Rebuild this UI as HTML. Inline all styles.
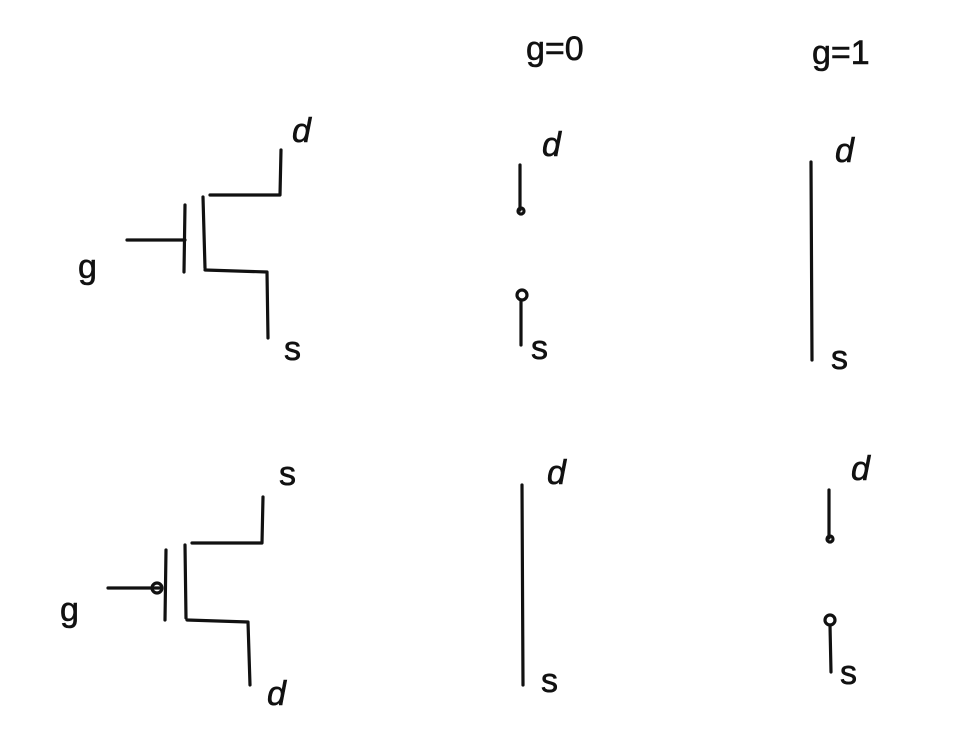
<!DOCTYPE html>
<html><head><meta charset="utf-8"><style>
html,body{margin:0;padding:0;background:#fff}
svg{display:block}
text{font-family:"Liberation Sans",sans-serif;font-size:34px;fill:#111;stroke:#111;stroke-width:0.6}
</style></head><body>
<svg width="980" height="740" viewBox="0 0 980 740" xmlns="http://www.w3.org/2000/svg">
<g fill="none" stroke="#111" stroke-width="3.2" stroke-linecap="round" stroke-linejoin="round">
<path d="M127 240 L185 240"/>
<path d="M185 205 L184 272"/>
<path d="M203 197 L205 268"/>
<path d="M210 195 L280 195 L281 150"/>
<path d="M205 270 L267 272 L268 338"/>
<path d="M108 588 L162 588"/>
<circle cx="157" cy="588" r="5"/>
<path d="M166 550 L165 620"/>
<path d="M185 545 L186 618"/>
<path d="M192 543 L262 543 L263 497"/>
<path d="M187 620 L248 622 L250 685"/>
<path d="M520 165 L520 210"/>
<circle cx="521" cy="211" r="3"/>
<circle cx="522" cy="295" r="5"/>
<path d="M521 300 L521 345"/>
<path d="M811 162 L812 360"/>
<path d="M522 485 L523 685"/>
<path d="M829 490 L829 538"/>
<circle cx="830" cy="539" r="3"/>
<circle cx="830" cy="620" r="5"/>
<path d="M830 625 L831 672"/>
</g>
<text x="78" y="278" font-size="42">g</text>
<text x="292" y="142" font-style="italic" font-size="38">d</text>
<text x="284" y="360">s</text>
<text x="60" y="621" font-size="42">g</text>
<text x="279" y="485">s</text>
<text x="267" y="705" font-style="italic" font-size="38">d</text>
<text x="526" y="60" font-size="40">g=0</text>
<text x="812" y="64" font-size="40">g=1</text>
<text x="542" y="156" font-style="italic" font-size="38">d</text>
<text x="531" y="359">s</text>
<text x="835" y="162" font-style="italic" font-size="38">d</text>
<text x="831" y="369">s</text>
<text x="547" y="484" font-style="italic" font-size="38">d</text>
<text x="541" y="692">s</text>
<text x="851" y="480" font-style="italic" font-size="38">d</text>
<text x="840" y="684">s</text>
</svg>
</body></html>
